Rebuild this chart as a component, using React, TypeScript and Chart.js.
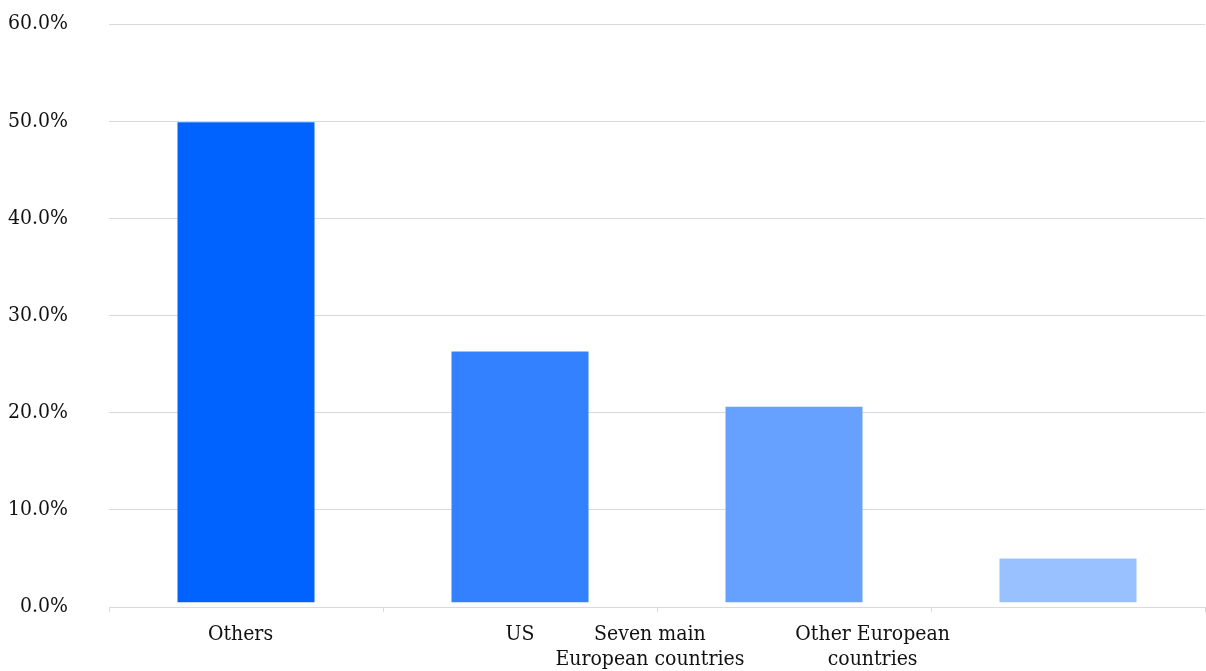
import React, { useEffect, useRef } from "react";
import { Chart, registerables } from "chart.js";

Chart.register(...registerables);

// Share of total by region (percent)
const categories = ["Others", "US", "Seven main European countries", "Other European countries"];
const shares = [49.9, 26.3, 20.6, 5.0];
const barColors = ["#0062FF", "#3381FF", "#66A1FF", "#99C0FF"];

// Region names printed under the axis, one array entry per text line
const axisLabels: string[][] = [
  ["Others"],
  ["US"],
  ["Seven main", "European countries"],
  ["Other European", "countries"],
];
// Where each region name sits along the category span (0..4)
const axisLabelSlots = [0.48, 1.5, 1.974, 2.787];

const yTicks = [0, 10, 20, 30, 40, 50, 60];

const FONT = "'DejaVu Serif Condensed', 'DejaVu Serif', serif";
const GRID = "#d9d9df";

const noSidePadding = (axis: any) => {
  axis.paddingLeft = 0;
  axis.paddingRight = 0;
  axis.paddingTop = 0;
  axis.paddingBottom = 0;
};

export default function App() {
  const canvasRef = useRef<HTMLCanvasElement | null>(null);

  useEffect(() => {
    if (!canvasRef.current) return;
    const chart = new Chart(canvasRef.current, {
      type: "bar",
      data: {
        labels: categories,
        datasets: [
          {
            data: shares,
            backgroundColor: barColors,
            base: 0.5,
            borderWidth: 0,
            barPercentage: 0.5,
            categoryPercentage: 1,
            xAxisID: "x",
          },
        ],
      },
      options: {
        animation: false,
        responsive: true,
        maintainAspectRatio: false,
        layout: { padding: { top: 24, left: 0, right: 1, bottom: 0 } },
        plugins: {
          legend: { display: false },
          tooltip: { enabled: false },
        },
        scales: {
          x: {
            type: "category",
            position: "bottom",
            grid: {
              display: true,
              offset: true,
              drawOnChartArea: false,
              drawTicks: true,
              tickLength: 5,
              color: GRID,
            },
            border: { display: true, color: GRID, width: 1 },
            ticks: { display: false },
            afterFit: (axis: any) => {
              noSidePadding(axis);
              axis.height = 5;
            },
          },
          names: {
            type: "linear",
            position: "bottom",
            min: 0,
            max: 4,
            offset: false,
            grid: { display: false, drawTicks: false, offset: false },
            border: { display: false },
            afterBuildTicks: (axis: any) => {
              axis.ticks = axisLabelSlots.map((v) => ({ value: v }));
            },
            afterFit: (axis: any) => {
              noSidePadding(axis);
              axis.height = 59;
            },
            ticks: {
              autoSkip: false,
              maxRotation: 0,
              minRotation: 0,
              padding: 10,
              color: "#111",
              font: { family: FONT, size: 21, lineHeight: 1.2 },
              callback: (_v: any, i: number) => axisLabels[i],
            },
          },
          y: {
            min: 0,
            max: 60,
            afterBuildTicks: (axis: any) => {
              axis.ticks = yTicks.map((v) => ({ value: v }));
            },
            afterFit: (axis: any) => {
              noSidePadding(axis);
              axis.width = 109;
            },
            grid: { color: GRID, drawTicks: false, lineWidth: 1 },
            border: { display: false },
            ticks: {
              padding: 41,
              color: "#111",
              font: { family: FONT, size: 21 },
              callback: (v: any) => Number(v).toFixed(1) + "%",
            },
          },
        },
      },
    });
    return () => chart.destroy();
  }, []);

  return (
    <div style={{ position: "fixed", left: 0, top: 0, width: 1206, height: 671, background: "#fff" }}>
      <canvas ref={canvasRef} />
    </div>
  );
}
